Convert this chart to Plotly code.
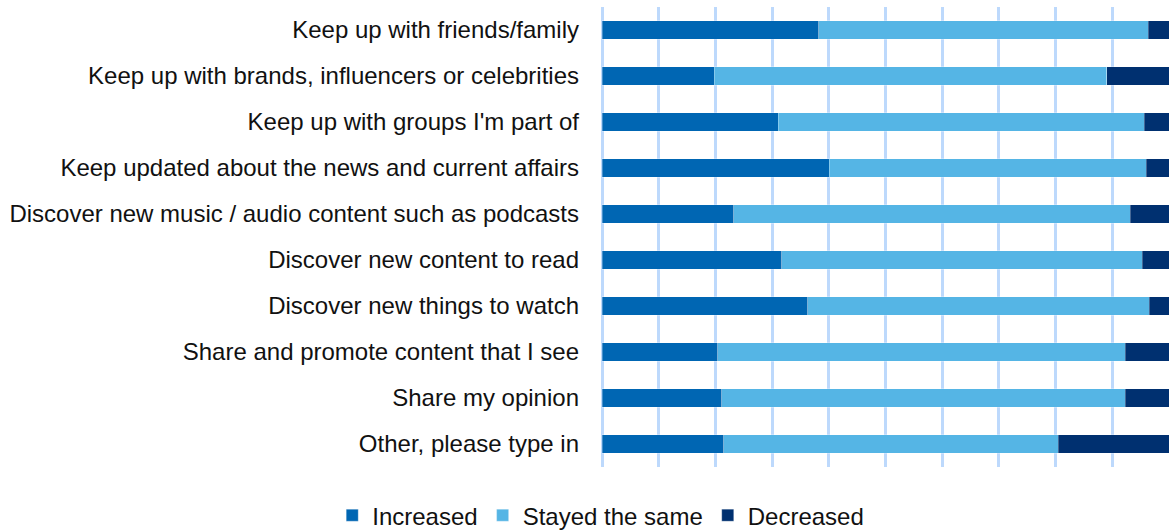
import plotly.graph_objects as go

# Reasons for using social media, change in usage (% of respondents)
categories = [
    "Keep up with friends/family",
    "Keep up with brands, influencers or celebrities",
    "Keep up with groups I'm part of",
    "Keep updated about the news and current affairs",
    "Discover new music / audio content such as podcasts",
    "Discover new content to read",
    "Discover new things to watch",
    "Share and promote content that I see",
    "Share my opinion",
    "Other, please type in",
]
increased = [38.2, 19.8, 31.1, 40.1, 23.2, 31.7, 36.3, 20.4, 21.1, 21.5]
stayed_same = [58.1, 69.2, 64.5, 55.9, 70.0, 63.6, 60.2, 71.9, 71.2, 59.0]
decreased = [3.7, 11.0, 4.4, 4.0, 6.8, 4.7, 3.5, 7.7, 7.7, 19.5]

series = [
    ("Increased", increased, "#0066B3"),
    ("Stayed the same", stayed_same, "#55B5E5"),
    ("Decreased", decreased, "#003070"),
]

FONT = "Liberation Sans"
TEXT_COLOR = "#111111"

fig = go.Figure()
for name, values, color in series:
    fig.add_trace(go.Bar(
        y=categories,
        x=values,
        name=name,
        orientation="h",
        marker=dict(color=color, line=dict(color="rgba(255,255,255,0.35)", width=0.8)),
        width=0.4,
    ))

fig.update_layout(
    barmode="stack",
    width=1171,
    height=531,
    margin=dict(l=602, r=2, t=7, b=64),
    plot_bgcolor="white",
    paper_bgcolor="white",
    font=dict(family=FONT, size=24, color=TEXT_COLOR),
    showlegend=True,
    legend=dict(
        orientation="h",
        xref="container",
        yref="container",
        x=0.513,
        y=0.029,
        xanchor="center",
        yanchor="middle",
        font=dict(family=FONT, size=24, color=TEXT_COLOR),
        itemwidth=30,
        traceorder="normal",
    ),
    xaxis=dict(
        range=[0, 100],
        dtick=10,
        showticklabels=False,
        showgrid=True,
        gridcolor="#BDD9FC",
        gridwidth=2.5,
        zeroline=True,
        zerolinecolor="#BDD9FC",
        zerolinewidth=2.5,
        showline=False,
        fixedrange=True,
    ),
    yaxis=dict(
        autorange="reversed",
        showgrid=False,
        ticks="",
        ticklabelstandoff=22,
        tickfont=dict(family=FONT, size=24, color=TEXT_COLOR),
        fixedrange=True,
    ),
)

fig.write_html("out.html")
